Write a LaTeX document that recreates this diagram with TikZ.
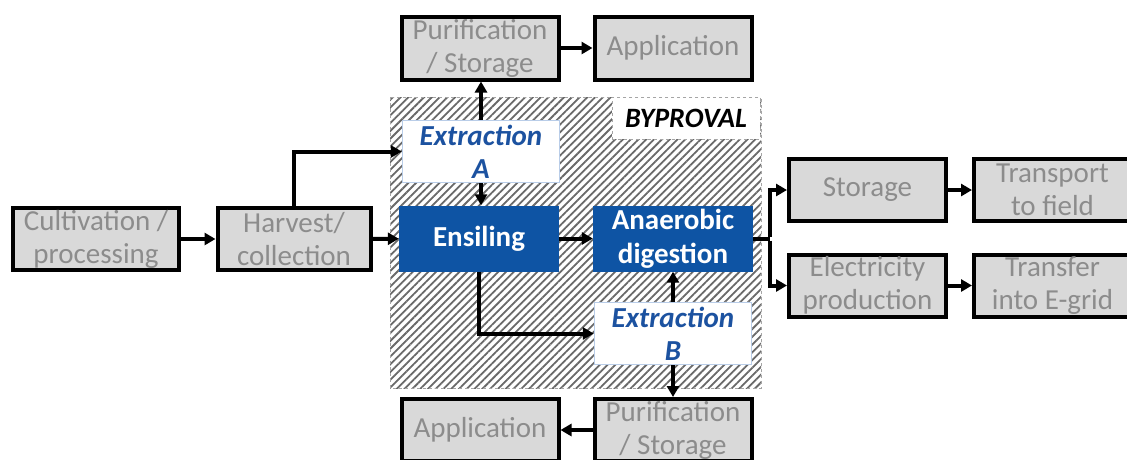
\documentclass[tikz,border=0pt]{standalone}
\usepackage{fontspec}
\setmainfont{Carlito}
\usetikzlibrary{arrows.meta,patterns.meta}
\definecolor{boxgray}{RGB}{217,217,217}
\definecolor{txtgray}{RGB}{140,140,140}
\definecolor{dblue}{RGB}{14,84,164}
\definecolor{eblue}{RGB}{28,82,160}
\definecolor{eborder}{RGB}{185,205,232}
\definecolor{hatchcol}{RGB}{105,105,105}
\begin{document}
\begin{tikzpicture}[x=1pt,y=-1pt,
  gbox/.style={draw=black, line width=4pt, fill=boxgray, text=txtgray,
    minimum width=157pt, minimum height=62pt, inner sep=0pt, align=center,
    font=\fontsize{29}{33}\selectfont},
  bbox/.style={fill=dblue, text=white, minimum width=160pt, minimum height=66pt,
    inner sep=0pt, align=center, font=\fontsize{29}{34}\selectfont\bfseries},
  ebox/.style={fill=white, draw=eborder, line width=1.5pt, text=eblue,
    minimum width=157pt, minimum height=62pt, inner sep=0pt, align=center,
    font=\fontsize{29}{33}\selectfont\bfseries\itshape},
  conn/.style={line width=4pt, -{Triangle[length=11pt,width=12pt]}},
  plain/.style={line width=4pt}]
\clip (0,0) rectangle (1127,459);
\fill[white] (0,0) rectangle (1127,459);

% hatched project area
\fill[pattern={Lines[angle=45,distance=5.5pt,line width=1.8pt]}, pattern color=hatchcol]
  (390,97) rectangle (761,388);
\draw[hatchcol!60, dashed, line width=1pt] (390,97) rectangle (761,388);
\node[fill=white, draw=hatchcol!60, dashed, line width=1pt, minimum width=148pt,
  minimum height=42pt, inner sep=0pt, font=\fontsize{28}{32}\selectfont\bfseries\itshape]
  (byp) at (686,118) {BYPROVAL};

% process boxes
\node[gbox, minimum width=166pt] (cult) at (96,239) {Cultivation /\\processing};
\node[gbox, minimum width=153pt] (harv) at (294,239) {Harvest/\\collection};
\node[gbox, minimum height=63pt] (purT) at (480,48) {Purification\\/ Storage};
\node[gbox, minimum height=63pt] (appT) at (673,48) {Application};
\node[ebox] (extA) at (481,151.5) {Extraction\\A};
\node[bbox] (ens) at (479,238.5) {Ensiling};
\node[bbox] (ad) at (673,238.5) {Anaerobic\\digestion};
\node[ebox] (extB) at (673,333.5) {Extraction\\B};
\node[gbox] (purB) at (673,430) {Purification\\/ Storage};
\node[gbox] (appB) at (480,430) {Application};
\node[gbox] (stor) at (867.5,190) {Storage};
\node[gbox] (trans) at (1052.5,190) {Transport\\to field};
\node[gbox] (elec) at (867.5,285.5) {Electricity\\production};
\node[gbox] (grid) at (1052.5,285.5) {Transfer\\into E-grid};

% connectors
\draw[conn] (cult) -- (harv);
\draw[conn] (harv) -- (ens);
\draw[conn] (harv.north) |- (extA.west);
\draw[conn] (extA.north) -- (extA.north |- purT.south);
\draw[conn] (extA.south) -- (extA.south |- ens.north);
\draw[conn] (purT) -- (appT);
\draw[conn] (ens) -- (ad);
\draw[conn] (ens.south) |- (extB.west);
\draw[conn] (extB.north) -- (extB.north |- ad.south);
\draw[conn] (extB.south) -- (extB.south |- purB.north);
\draw[conn] (purB) -- (appB);
\coordinate (split) at ([xshift=17pt]ad.east);
\draw[plain] (ad.east) -- (split);
\draw[conn] ([yshift=2pt]split) |- (stor.west);
\draw[conn] ([yshift=-2pt]split) |- (elec.west);
\draw[conn] (stor) -- (trans);
\draw[conn] (elec) -- (grid);
\end{tikzpicture}
\end{document}
